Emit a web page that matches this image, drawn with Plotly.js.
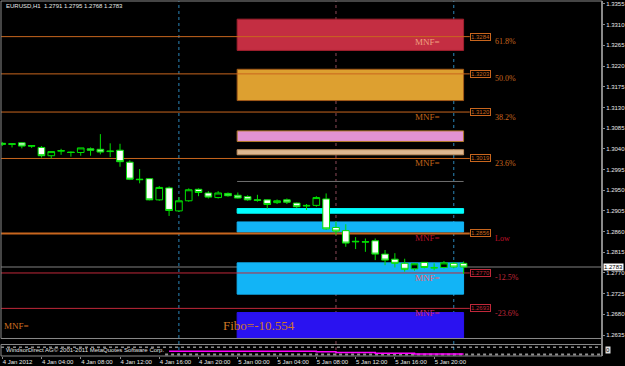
<!DOCTYPE html>
<html><head><meta charset="utf-8">
<script src="https://cdn.plot.ly/plotly-3.0.1.min.js"></script>
<style>html,body{margin:0;padding:0;background:#000;}#chart{width:625px;height:366px;}</style>
</head><body><div id="chart"></div>
<script>
const symbol = 'EURUSD,H1';
const times = ['2012-01-04 00:00','2012-01-04 01:00','2012-01-04 02:00','2012-01-04 03:00','2012-01-04 04:00','2012-01-04 05:00','2012-01-04 06:00','2012-01-04 07:00','2012-01-04 08:00','2012-01-04 09:00','2012-01-04 10:00','2012-01-04 11:00','2012-01-04 12:00','2012-01-04 13:00','2012-01-04 14:00','2012-01-04 15:00','2012-01-04 16:00','2012-01-04 17:00','2012-01-04 18:00','2012-01-04 19:00','2012-01-04 20:00','2012-01-04 21:00','2012-01-04 22:00','2012-01-04 23:00',
'2012-01-05 00:00','2012-01-05 01:00','2012-01-05 02:00','2012-01-05 03:00','2012-01-05 04:00','2012-01-05 05:00','2012-01-05 06:00','2012-01-05 07:00','2012-01-05 08:00','2012-01-05 09:00','2012-01-05 10:00','2012-01-05 11:00','2012-01-05 12:00','2012-01-05 13:00','2012-01-05 14:00','2012-01-05 15:00','2012-01-05 16:00','2012-01-05 17:00','2012-01-05 18:00','2012-01-05 19:00','2012-01-05 20:00','2012-01-05 21:00','2012-01-05 22:00','2012-01-05 23:00'];
const open  = [1.3052,1.3051,1.3053,1.3047,1.3043,1.3025,1.3035,1.3033,1.3032,1.3040,1.3039,1.3034,1.3037,1.3011,1.2974,1.2975,1.2929,1.2955,1.2905,1.2927,1.2952,1.2944,1.2934,1.2943,1.2939,1.2936,1.2929,1.2929,1.2923,1.2929,1.2922,1.2917,1.2917,1.2931,1.2869,1.2862,1.2839,1.2837,1.2840,1.2811,1.2800,1.2791,1.2779,1.2793,1.2782,1.2782,1.2791,1.2791];
const high  = [1.3055,1.3052,1.3054,1.3048,1.3046,1.3034,1.3040,1.3034,1.3042,1.3043,1.3072,1.3052,1.3051,1.3015,1.2996,1.2976,1.2959,1.2958,1.2935,1.2954,1.2954,1.2948,1.2948,1.2945,1.2945,1.2939,1.2940,1.2930,1.2930,1.2932,1.2923,1.2920,1.2937,1.2943,1.2882,1.2876,1.2848,1.2845,1.2845,1.2820,1.2813,1.2801,1.2792,1.2794,1.2791,1.2796,1.2794,1.2795];
const low   = [1.3046,1.3043,1.3041,1.3042,1.3021,1.3019,1.3027,1.3023,1.3025,1.3025,1.3028,1.3022,1.3001,1.2972,1.2965,1.2928,1.2927,1.2894,1.2903,1.2925,1.2937,1.2932,1.2932,1.2936,1.2932,1.2927,1.2925,1.2910,1.2920,1.2920,1.2911,1.2907,1.2914,1.2864,1.2853,1.2827,1.2822,1.2816,1.2798,1.2787,1.2782,1.2773,1.2775,1.2780,1.2776,1.2780,1.2780,1.2768];
const close = [1.3050,1.3050,1.3046,1.3046,1.3025,1.3034,1.3036,1.3032,1.3042,1.3037,1.3033,1.3035,1.3012,1.2974,1.2973,1.2929,1.2956,1.2906,1.2927,1.2951,1.2945,1.2935,1.2944,1.2938,1.2933,1.2929,1.2928,1.2919,1.2927,1.2924,1.2914,1.2916,1.2934,1.2866,1.2861,1.2835,1.2838,1.2838,1.2811,1.2798,1.2791,1.2778,1.2790,1.2782,1.2781,1.2792,1.2783,1.2783];
const indicator = [null,null,null,null,null,null,null,null,null,null,null,null,null,null,null,null,null,0.42,0.42,0.42,0.42,0.42,0.42,0.42,0.42,0.42,0.42,0.42,0.42,0.42,0.42,0.42,0.36,0.36,0.3,0.3,0.3,0.3,0.24,0.24,0.24,0.24,0.17,0.17,0.17,0.17,0.17,0.17];

const xTickTimes = ['2012-01-04 00:00','2012-01-04 04:00','2012-01-04 08:00','2012-01-04 12:00','2012-01-04 16:00','2012-01-04 20:00','2012-01-05 00:00','2012-01-05 04:00','2012-01-05 08:00','2012-01-05 12:00','2012-01-05 16:00','2012-01-05 20:00'];
const xTickLabels = ['4 Jan 2012','4 Jan 04:00','4 Jan 08:00','4 Jan 12:00','4 Jan 16:00','4 Jan 20:00','5 Jan 00:00','5 Jan 04:00','5 Jan 08:00','5 Jan 12:00','5 Jan 16:00','5 Jan 20:00'];
const yTickVals = [1.3355,1.3310,1.3265,1.3220,1.3175,1.3130,1.3085,1.3040,1.2995,1.2950,1.2905,1.2860,1.2815,1.2770,1.2725,1.2680,1.2635];
const yTickLabels = ['1.3355','1.3310','1.3265','1.3220','1.3175','1.3130','1.3085','1.3040','1.2995','1.2950','1.2905','1.2860','1.2815','1.2770','1.2725','1.2680','1.2635'];

const fibLevels = [1.3284,1.3203,1.3120,1.3019,1.2856,1.2770,1.2693];
const fibNames  = ['61.8%','50.0%','38.2%','23.6%','Low','-12.5%','-23.6%'];
const mnfShown  = [true,false,true,true,true,true,true];

const zoneTop    = [1.3322,1.3213,1.3079,1.3038,1.2910,1.2881,1.2792,1.2684];
const zoneBottom = [1.3254,1.3145,1.3056,1.3027,1.2900,1.2859,1.2724,1.2628];
const zoneStart = '2012-01-04 23:56', zoneEnd = '2012-01-05 23:00';
const midLevel = 1.2969;
const vLineTimes = ['2012-01-04 18:00','2012-01-05 10:00','2012-01-05 22:00'];
const fiboValue = '-10.554';

// styles
const zoneFill = ['#C42E42','#DDA030','#E392D2','#DDB892','#00FFFF','#12B4F6','#12B4F6','#2A12F0'];
const zoneLine = ['#A0202E','#A05818','#B07828','#C09060','#00FFFF','#12B4F6','#12B4F6','#2A12F0'];
const fibColor = ['#C8661E','#C8661E','#C8661E','#C8661E','#C8661E','#C0283A','#C0283A'];
const fibWidth = [1,1,1,1,2,1,1];
const nameColor = ['#C8661E','#C8661E','#C8661E','#C8661E','#C0102A','#C0283A','#C0283A'];
const mnfColor = ['#F0A080','#C06418','#C06418','#C06418','#B8102A','#F06070','#D02860'];
const vLineColor = ['#2B86B8','#8A4858','#2B86B8'];
const xStart = '2012-01-03 23:52:40', xEnd = '2012-01-06 13:06';
const fibEnd = '2012-01-05 23:38', nameX = '2012-01-06 02:00', mnfX = '2012-01-05 17:50';

const n = close.length;
const shapes = [];
for (let i = 0; i < zoneTop.length; i++) {
  shapes.push({type:'rect', xref:'x', yref:'y', x0:zoneStart, x1:zoneEnd, y0:zoneBottom[i], y1:zoneTop[i],
    fillcolor:zoneFill[i], line:{color:zoneLine[i], width:1}, layer:'below'});
}
shapes.push({type:'line', xref:'x', yref:'y', x0:zoneStart, x1:zoneEnd, y0:midLevel, y1:midLevel, line:{color:'#707070', width:1}, layer:'below'});
for (let i = 0; i < fibLevels.length; i++) {
  shapes.push({type:'line', xref:'x', yref:'y', x0:xStart, x1:fibEnd, y0:fibLevels[i], y1:fibLevels[i],
    line:{color:fibColor[i], width:fibWidth[i]}, layer:'below'});
}
for (let i = 0; i < vLineTimes.length; i++) {
  shapes.push({type:'line', xref:'x', yref:'paper', x0:vLineTimes[i], x1:vLineTimes[i], y0:0, y1:1,
    line:{color:vLineColor[i], width:1, dash:'dot'}, layer:'below'});
}
// bid line
shapes.push({type:'line', xref:'paper', yref:'y', x0:0, x1:1, y0:close[n-1], y1:close[n-1], line:{color:'#808080', width:1}, layer:'below'});
// frames
shapes.push({type:'rect', xref:'x domain', yref:'y domain', x0:0, x1:1, y0:0, y1:1, line:{color:'#8a8a8a', width:1}});
shapes.push({type:'rect', xref:'x domain', yref:'y2 domain', x0:0, x1:1, y0:0, y1:1, line:{color:'#8a8a8a', width:1}});
shapes.push({type:'line', xref:'x domain', yref:'y2', x0:0, x1:1, y0:0.77, y1:0.77, line:{color:'#d0d0d0', width:1, dash:'dot'}, layer:'below'});
shapes.push({type:'line', xref:'paper', yref:'y2', x0:0.273, x1:1, y0:0.12, y1:0.12, line:{color:'#909090', width:2, dash:'dot'}, layer:'below'});
shapes.push({type:'line', xref:'paper', yref:'paper', x0:1, x1:1, y0:0, y1:1, line:{color:'#8a8a8a', width:2}});

const serif = 'Liberation Serif, DejaVu Serif, serif';
const sans = 'Liberation Sans, Arial, sans-serif';
const annotations = [];
for (let i = 0; i < fibLevels.length; i++) {
  annotations.push({xref:'x', yref:'y', x:fibEnd, y:fibLevels[i], xanchor:'left', yanchor:'middle', showarrow:false,
    text:fibLevels[i].toFixed(4), font:{family:sans, size:6, color:fibColor[i]}, bgcolor:'#000', bordercolor:fibColor[i], borderwidth:1, borderpad:0});
  annotations.push({xref:'x', yref:'y', x:nameX, y:fibLevels[i], yshift:-5, xanchor:'left', yanchor:'middle', showarrow:false,
    text:fibNames[i], font:{family:serif, size:8, color:nameColor[i]}});
  if (mnfShown[i]) annotations.push({xref:'x', yref:'y', x:mnfX, y:fibLevels[i], yshift:-5, xanchor:'left', yanchor:'middle', showarrow:false,
    text:'MNF=', font:{family:serif, size:9, color:mnfColor[i]}});
}
annotations.push({xref:'paper', yref:'y', x:1, y:close[n-1], xshift:1, xanchor:'left', yanchor:'middle', showarrow:false,
  text:close[n-1].toFixed(4), font:{family:sans, size:6, color:'#000'}, bgcolor:'#fff', borderpad:0});
annotations.push({xref:'paper', yref:'paper', x:0.005, y:0.987, xanchor:'left', yanchor:'middle', showarrow:false,
  text:symbol + '  ' + [open[n-1],high[n-1],low[n-1],close[n-1]].map(v=>v.toFixed(4)).join(' '), font:{family:sans, size:6, color:'#e8e8e8'}});
annotations.push({xref:'paper', yref:'paper', x:0.001, y:0.085, xanchor:'left', yanchor:'middle', showarrow:false,
  text:'MNF=', font:{family:serif, size:9, color:'#D07020'}});
annotations.push({xref:'paper', yref:'paper', x:0.366, y:0.085, xanchor:'left', yanchor:'middle', showarrow:false,
  text:'Fibo=' + fiboValue, font:{family:serif, size:13, color:'#D07828'}});
annotations.push({xref:'paper', yref:'paper', x:0.005, y:0.017, xanchor:'left', yanchor:'middle', showarrow:false,
  text:'WindsorDirect AG© 2001-2011 MetaQuotes Software Corp.', font:{family:sans, size:6, color:'#e0e0e0'}});
annotations.push({xref:'paper', yref:'paper', x:1, y:0.017, xshift:3, xanchor:'left', yanchor:'middle', showarrow:false,
  text:'0', font:{family:sans, size:6, color:'#000'}, bgcolor:'#e0e0e0', borderpad:0});

const data = [
  {type:'candlestick', x:times, open:open, high:high, low:low, close:close, xaxis:'x', yaxis:'y',
   increasing:{line:{color:'#00E000', width:1}, fillcolor:'#000000'},
   decreasing:{line:{color:'#00E000', width:1}, fillcolor:'#FFFFFF'}, whiskerwidth:0, hoverinfo:'skip', showlegend:false},
  {type:'scatter', mode:'lines', x:times, y:indicator, xaxis:'x', yaxis:'y2', cliponaxis:false, line:{color:'#FF00FF', width:1.5, shape:'hv'}, hoverinfo:'skip', showlegend:false}
];

const layout = {
  width:625, height:366, margin:{l:1, r:23, t:1, b:10},
  paper_bgcolor:'#000', plot_bgcolor:'#000', showlegend:false,
  boxgap:0.2, boxgroupgap:0.15,
  xaxis:{type:'date', range:[xStart, xEnd], anchor:'y2', rangeslider:{visible:false},
    tickvals:xTickTimes, ticktext:xTickLabels, tickangle:0, ticklabelposition:'outside right', ticks:'outside', ticklen:2, tickcolor:'#8a8a8a',
    tickfont:{family:sans, size:6, color:'#e8e8e8'}, showgrid:false, zeroline:false, showline:false, automargin:false},
  yaxis:{domain:[0.0493,1], range:[1.26275,1.33615], side:'right', anchor:'x', tickvals:yTickVals, ticktext:yTickLabels,
    ticks:'outside', ticklen:2, tickcolor:'#8a8a8a', tickfont:{family:sans, size:6, color:'#e8e8e8'}, ticklabelstandoff:0,
    showgrid:false, zeroline:false, showline:false, automargin:false},
  yaxis2:{domain:[0,0.0324], range:[0,1], side:'right', anchor:'x', showticklabels:false, showgrid:false, zeroline:false, ticks:'', automargin:false},
  shapes:shapes, annotations:annotations
};
Plotly.newPlot('chart', data, layout, {staticPlot:true, displayModeBar:false});
</script></body></html>
